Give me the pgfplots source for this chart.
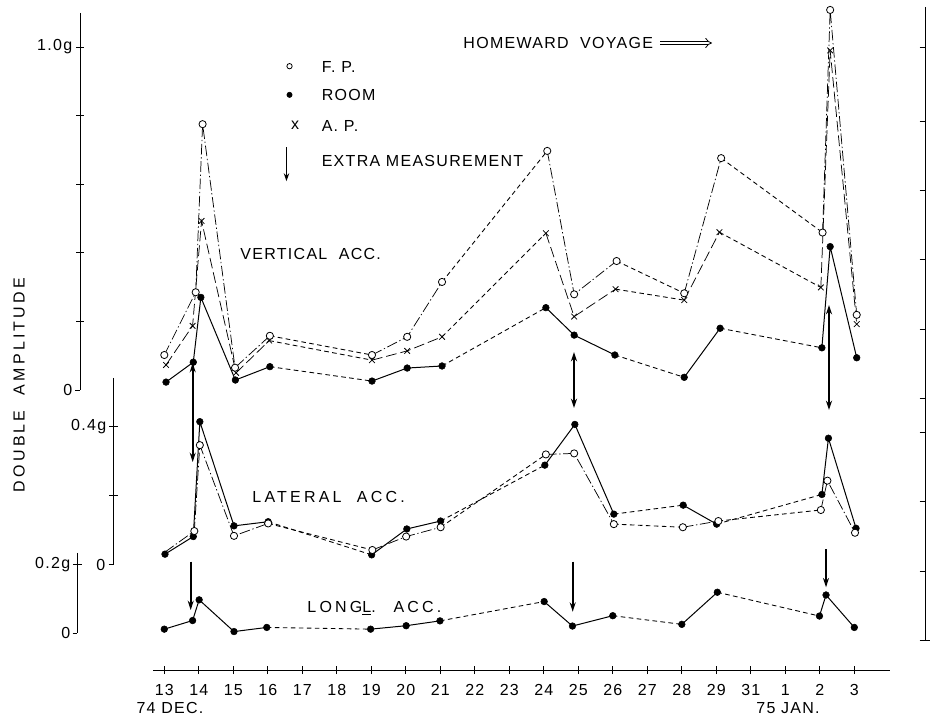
\documentclass[border=0pt]{standalone}
\usepackage{fontspec}
\setmainfont{Liberation Sans}
\newfontfamily\lf{Liberation Sans}[LetterSpace=8]
\newfontfamily\lfw{Liberation Sans}[LetterSpace=20]
\newcommand{\tf}{\lf\fontsize{12}{14}\selectfont}
\usepackage{pgfplots}
\pgfplotsset{compat=1.18}
\usetikzlibrary{arrows.meta}
\pgfplotsset{
 panel/.style={scale only axis, width=697.5pt, height=537.75pt, at={(0pt,0pt)}, anchor=south west,
   xmin=-4.7623, xmax=22.1942, hide axis, clip=false, unbounded coords=jump},
 fpline/.style={black, line width=0.55pt, dash pattern=on 8pt off 2pt on 1pt off 2pt, forget plot},
 apline/.style={black, line width=0.55pt, dash pattern=on 8pt off 3pt, forget plot},
 rmline/.style={black, line width=0.75pt, forget plot},
 gapline/.style={black, line width=0.65pt, dash pattern=on 3.5pt off 2.5pt, forget plot},
 fpmark/.style={black, only marks, mark=*, mark size=2.7pt, mark options={solid, fill=white, draw=black, line width=0.6pt}},
 rmmark/.style={black, only marks, mark=*, mark size=2.5pt, mark options={solid, fill=black}},
 apmark/.style={black, only marks, mark=x, mark size=3pt, mark options={solid, line width=0.6pt}},
}
\begin{document}
\begin{tikzpicture}
\useasboundingbox (0,0) rectangle (697.5pt,537.75pt);
% ---------------- VERTICAL ACC. (zero at 390 px, 343 px/g)
\begin{axis}[panel, ymin=-0.95335, ymax=1.13703,
  legend style={draw=none, fill=none, at={(0.3006,0.922)}, anchor=north west,
    font=\tf, row sep=10.5pt, column sep=15pt, nodes={inner sep=1pt, text height=9pt, text depth=0pt}},
  legend cell align=left]
\addlegendimage{fpmark,mark size=2pt}\addlegendentry{F. P.}
\addlegendimage{rmmark,mark size=2pt}\addlegendentry{ROOM}
\addlegendimage{legend image code/.code={\node[font=\tf] at (0.3cm,0.05cm) {x};}}\addlegendentry{A. P.}
\addlegendimage{legend image code/.code={\draw[line width=1.1pt,-{Stealth[length=6pt,width=4pt]}] (0.22cm,0.16cm)--(0.22cm,-0.73cm);}}\addlegendentry[yshift=-5pt]{EXTRA MEASUREMENT}
% gap segments
\addplot[gapline] coordinates {(3.06,0.158) (6.02,0.102) (nan,nan) (8.05,0.315) (11.10,0.697) (nan,nan) (13.11,0.376) (15.07,0.282) (nan,nan) (16.14,0.676) (19.08,0.459)};
\addplot[gapline] coordinates {(3.04,0.144) (6.02,0.087) (nan,nan) (8.05,0.155) (11.06,0.457) (nan,nan) (13.08,0.294) (15.07,0.262) (nan,nan) (16.09,0.460) (19.03,0.299)};
\addplot[gapline] coordinates {(3.06,0.068) (6.02,0.026) (nan,nan) (8.05,0.070) (11.06,0.240) (nan,nan) (13.06,0.102) (15.07,0.037) (nan,nan) (16.11,0.180) (19.06,0.123)};
% consecutive segments
\addplot[fpline] coordinates {(0,0.102) (0.91,0.285) (1.11,0.775) (2.05,0.065) (3.06,0.158) (nan,nan) (6.02,0.102) (7.04,0.155) (8.05,0.315) (nan,nan) (11.10,0.697) (11.88,0.279) (13.11,0.376) (nan,nan) (15.07,0.282) (16.14,0.676) (nan,nan) (19.08,0.459) (19.30,1.108) (20.07,0.219)};
\addplot[apline] coordinates {(0.05,0.073) (0.82,0.187) (1.08,0.493) (2.08,0.050) (3.04,0.144) (nan,nan) (6.02,0.087) (7.04,0.114) (8.05,0.155) (nan,nan) (11.06,0.457) (11.88,0.214) (13.08,0.294) (nan,nan) (15.07,0.262) (16.09,0.460) (nan,nan) (19.03,0.299) (19.30,0.99) (20.07,0.192)};
\addplot[rmline] coordinates {(0.05,0.023) (0.84,0.081) (1.06,0.270) (2.06,0.029) (3.06,0.068) (nan,nan) (6.02,0.026) (7.04,0.064) (8.05,0.070) (nan,nan) (11.06,0.240) (11.88,0.160) (13.06,0.102) (nan,nan) (15.07,0.037) (16.11,0.180) (nan,nan) (19.06,0.123) (19.30,0.418) (20.07,0.094)};
% marks
\addplot[rmmark, forget plot] coordinates {(0.05,0.023) (0.84,0.081) (1.06,0.270) (2.06,0.029) (3.06,0.068) (6.02,0.026) (7.04,0.064) (8.05,0.070) (11.06,0.240) (11.88,0.160) (13.06,0.102) (15.07,0.037) (16.11,0.180) (19.06,0.123) (19.30,0.418) (20.07,0.094)};
\addplot[apmark, forget plot] coordinates {(0.05,0.073) (0.82,0.187) (1.08,0.493) (2.08,0.050) (3.04,0.144) (6.02,0.087) (7.04,0.114) (8.05,0.155) (11.06,0.457) (11.88,0.214) (13.08,0.294) (15.07,0.262) (16.09,0.460) (19.03,0.299) (19.30,0.99) (20.07,0.192)};
\addplot[fpmark, forget plot] coordinates {(0,0.102) (0.91,0.285) (1.11,0.775) (2.05,0.065) (3.06,0.158) (6.02,0.102) (7.04,0.155) (8.05,0.315) (11.10,0.697) (11.88,0.279) (13.11,0.376) (15.07,0.282) (16.14,0.676) (19.08,0.459) (19.30,1.108) (20.07,0.219)};
\end{axis}
% ---------------- LATERAL ACC. (zero at 564.5 px, 345 px/g)
\begin{axis}[panel, ymin=-0.44203, ymax=1.63623]
\addplot[gapline] coordinates {(3.01,0.124) (6.01,0.028) (nan,nan) (8.01,0.126) (11.03,0.288) (nan,nan) (13.03,0.146) (15.04,0.172) (nan,nan) (16.01,0.117) (19.06,0.203)};
\addplot[gapline] coordinates {(3.01,0.119) (6.03,0.042) (nan,nan) (8.01,0.108) (11.06,0.319) (nan,nan) (13.03,0.117) (15.03,0.108) (nan,nan) (16.06,0.126) (19.03,0.158)};
\addplot[rmline] coordinates {(0.02,0.030) (0.84,0.081) (1.03,0.414) (2.02,0.112) (3.01,0.124) (nan,nan) (6.01,0.028) (7.03,0.103) (8.01,0.126) (nan,nan) (11.03,0.288) (11.90,0.406) (13.03,0.146) (nan,nan) (15.04,0.172) (16.01,0.117) (nan,nan) (19.06,0.203) (19.25,0.366) (20.05,0.105)};
\addplot[fpline] coordinates {(0.02,0.036) (0.87,0.097) (1.03,0.346) (2.02,0.083) (3.01,0.119) (nan,nan) (6.03,0.042) (7.01,0.081) (8.01,0.108) (nan,nan) (11.06,0.319) (11.88,0.322) (13.03,0.117) (nan,nan) (15.03,0.108) (16.06,0.126) (nan,nan) (19.03,0.158) (19.22,0.243) (20.02,0.092)};
\addplot[rmmark, forget plot] coordinates {(0.02,0.030) (0.84,0.081) (1.03,0.414) (2.02,0.112) (3.01,0.124) (6.01,0.028) (7.03,0.103) (8.01,0.126) (11.03,0.288) (11.90,0.406) (13.03,0.146) (15.04,0.172) (16.01,0.117) (19.06,0.203) (19.25,0.366) (20.05,0.105)};
\addplot[fpmark, forget plot] coordinates {(0.87,0.097) (1.03,0.346) (2.02,0.083) (3.01,0.119) (6.03,0.042) (7.01,0.081) (8.01,0.108) (11.06,0.319) (11.88,0.322) (13.03,0.117) (15.03,0.108) (16.06,0.126) (19.03,0.158) (19.22,0.243) (20.02,0.092)};
\end{axis}
% ---------------- LONGL. ACC. (zero at 633.3 px, 345 px/g)
\begin{axis}[panel, ymin=-0.24261, ymax=1.83565]
\addplot[gapline] coordinates {(2.97,0.017) (5.98,0.012) (nan,nan) (7.99,0.036) (11.01,0.092) (nan,nan) (13.0,0.051) (15.0,0.026) (nan,nan) (16.03,0.119) (18.99,0.050)};
\addplot[rmline] coordinates {(0,0.012) (0.82,0.037) (1.01,0.097) (2.02,0.005) (2.97,0.017) (nan,nan) (5.98,0.012) (7.01,0.022) (7.99,0.036) (nan,nan) (11.01,0.092) (11.83,0.021) (13.0,0.051) (nan,nan) (15.0,0.026) (16.03,0.119) (nan,nan) (18.99,0.050) (19.18,0.111) (20.0,0.017)};
\addplot[rmmark, forget plot] coordinates {(0,0.012) (0.82,0.037) (1.01,0.097) (2.02,0.005) (2.97,0.017) (5.98,0.012) (7.01,0.022) (7.99,0.036) (11.01,0.092) (11.83,0.021) (13.0,0.051) (15.0,0.026) (16.03,0.119) (18.99,0.050) (19.18,0.111) (20.0,0.017)};
\end{axis}
% ---------------- date axis
\begin{axis}[scale only axis, width=552.75pt, height=20pt, at={(114.75pt,35.25pt)}, anchor=south west,
  xmin=-0.3275, xmax=21.035, ymin=0, ymax=1, axis x line=bottom, hide y axis,
  axis line style={-, line width=0.7pt}, xtick={0,...,20},
  xticklabels={13,14,15,16,17,18,19,20,21,22,23,24,25,26,27,28,29,31,1,2,3},
  major tick length=6pt, tick align=center, tick style={black, line width=0.6pt},
  xticklabel style={font=\tf, yshift=-4pt}]
\end{axis}
% ---------------- frame, labels, annotations (pixel coordinates)
\begin{scope}[x=0.75pt, y=-0.75pt, yshift=537.75pt, line width=0.7pt]
 % vertical axis
 \draw (80,13) -- (80,390);
 \foreach \yy in {47,115.6,184.2,252.8,321.4} \draw (76,\yy) -- (84,\yy);
 \draw (75,390) -- (80,390);
 \node[font=\tf, anchor=east, inner sep=1pt] at (74,47) {1.0g};
 \node[font=\tf, anchor=east, inner sep=1pt] at (74,390) {0};
 % lateral axis
 \draw (113.3,378) -- (113.3,564.5);
 \draw (109,426.5) -- (117.5,426.5);
 \draw (109,495.5) -- (117.5,495.5);
 \draw (108.5,564.5) -- (113.3,564.5);
 \node[font=\tf, anchor=east, inner sep=1pt] at (108,426.5) {0.4g};
 \node[font=\tf, anchor=east, inner sep=1pt] at (107,564.5) {0};
 % longitudinal axis
 \draw (77.3,553) -- (77.3,633.3);
 \draw (73,564.5) -- (81.5,564.5);
 \draw (72.5,633.3) -- (77.3,633.3);
 \node[font=\tf, anchor=east, inner sep=1pt] at (72,564.5) {0.2g};
 \node[font=\tf, anchor=east, inner sep=1pt] at (72,633.3) {0};
 % right axis
 \draw (925,7) -- (925,640);
 \foreach \yy in {47.7,121,190.7,259.7,329,398.3,432.7,501.7,571} \draw (919.5,\yy) -- (925,\yy);
 \draw (919.5,640) -- (930,640);
 % titles
 \node[font=\lfw\fontsize{12}{14}\selectfont, rotate=90] at (19,385) {DOUBLE \ AMPLITUDE};
 \node[font=\tf, anchor=west, inner sep=0pt] at (463,43) {HOMEWARD \ VOYAGE};
 \draw[double, double distance=2pt, line width=0.6pt, -{Implies}] (660,43) -- (712,43);
 \node[font=\tf, anchor=west, inner sep=0pt] at (240,254) {VERTICAL \ ACC.};
 \node[font=\lfw\fontsize{12}{14}\selectfont, anchor=west, inner sep=0pt] at (252,497) {LATERAL \ ACC.};
 \node[font=\lfw\fontsize{12}{14}\selectfont, anchor=west, inner sep=0pt] at (307,608) {LONG\underline{L}. \ ACC.};
 \node[font=\tf, inner sep=0pt] at (170,708) {74 DEC.};
 \node[font=\tf, inner sep=0pt] at (788,708) {75 JAN.};
 % extra-measurement arrows
 \begin{scope}[line width=1.2pt, >={Stealth[length=7pt,width=4.5pt]}]
  \draw[<->] (192.7,363) -- (192.7,462);
  \draw[<->] (574,352) -- (574,408);
  \draw[<->] (829,305) -- (829,410);
  \draw[->] (190.7,561.7) -- (190.7,610);
  \draw[->] (572.7,561.7) -- (572.7,611.7);
  \draw[->] (826,549.3) -- (826,587.3);
 \end{scope}
\end{scope}
\end{tikzpicture}
\end{document}
